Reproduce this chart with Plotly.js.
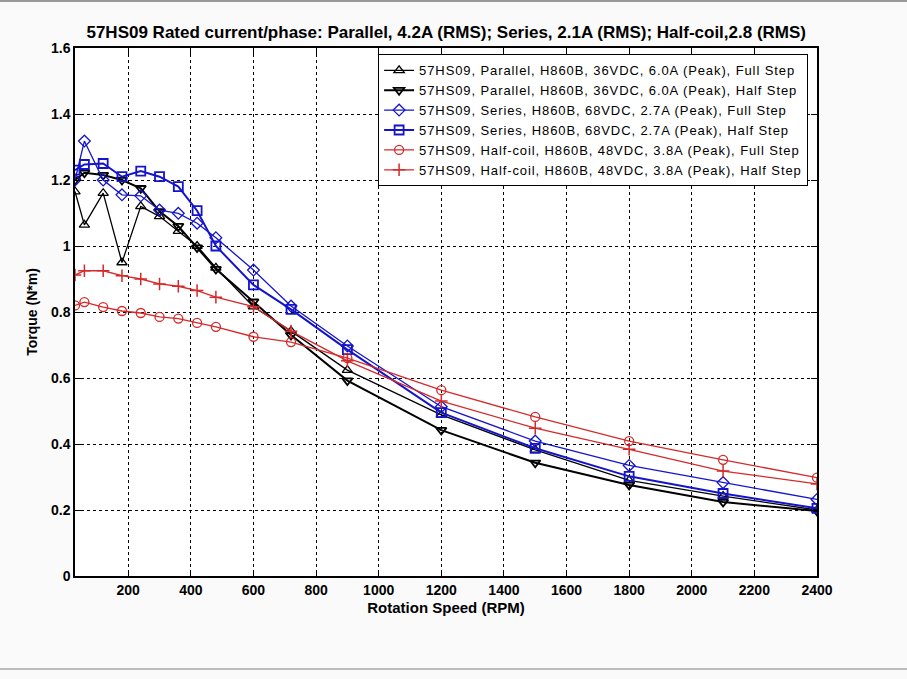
<!DOCTYPE html>
<html>
<head>
<meta charset="utf-8">
<script src="https://cdn.plot.ly/plotly-3.0.1.min.js"></script>
<style>html,body{margin:0;padding:0;background:#fafafa;}#chart{width:907px;height:679px;}
.legendtext{letter-spacing:0.9px;}</style>
</head>
<body>
<div id="chart"></div>
<script>
const rpm = [30, 60, 120, 180, 240, 300, 360, 420, 480, 600, 720, 900, 1200, 1500, 1800, 2100, 2400];

const parallelFull = [1.165, 1.064, 1.16, 0.95, 1.12, 1.09, 1.045, 1.0, 0.934, 0.816, 0.742, 0.624, 0.488, 0.382, 0.29, 0.242, 0.2];
const parallelHalf = [1.2, 1.222, 1.215, 1.2, 1.175, 1.105, 1.06, 0.995, 0.93, 0.831, 0.73, 0.592, 0.442, 0.343, 0.276, 0.224, 0.197];
const seriesFull   = [1.2, 1.318, 1.2, 1.155, 1.152, 1.109, 1.099, 1.069, 1.025, 0.927, 0.818, 0.697, 0.513, 0.409, 0.335, 0.283, 0.232];
const seriesHalf   = [1.23, 1.247, 1.25, 1.21, 1.227, 1.21, 1.18, 1.107, 1.0, 0.882, 0.808, 0.686, 0.495, 0.387, 0.302, 0.25, 0.205];
const halfCoilFull = [0.82, 0.83, 0.815, 0.803, 0.797, 0.785, 0.78, 0.767, 0.755, 0.725, 0.709, 0.66, 0.563, 0.482, 0.409, 0.352, 0.298];
const halfCoilHalf = [0.912, 0.925, 0.925, 0.91, 0.9, 0.885, 0.878, 0.865, 0.845, 0.816, 0.742, 0.652, 0.53, 0.448, 0.384, 0.318, 0.279];

const seriesNames = [
  "57HS09, Parallel, H860B, 36VDC, 6.0A (Peak), Full Step",
  "57HS09, Parallel, H860B, 36VDC, 6.0A (Peak), Half Step",
  "57HS09, Series, H860B, 68VDC, 2.7A (Peak), Full Step",
  "57HS09, Series, H860B, 68VDC, 2.7A (Peak), Half Step",
  "57HS09, Half-coil, H860B, 48VDC, 3.8A (Peak), Full Step",
  "57HS09, Half-coil, H860B, 48VDC, 3.8A (Peak), Half Step"
];
const xTicks = [200, 400, 600, 800, 1000, 1200, 1400, 1600, 1800, 2000, 2200, 2400];
const yTicks = [0, 0.2, 0.4, 0.6, 0.8, 1, 1.2, 1.4, 1.6];
const yTickText = ["0", "0.2", "0.4", "0.6", "0.8", "1", "1.2", "1.4", "1.6"];

const BLACK = "#000000", BLUE = "#1414cc", RED = "#d42a2a";
const styles = [
  {c: BLACK, s: "triangle-up-open", w: 1.3, lw: 1.3},
  {c: BLACK, s: "triangle-down-open", w: 2, lw: 1.8},
  {c: BLUE, s: "diamond-open", w: 1.3, lw: 1.3},
  {c: BLUE, s: "square-open", w: 2, lw: 1.8},
  {c: RED, s: "circle-open", w: 1.3, lw: 1.3},
  {c: RED, s: "cross-thin-open", w: 1.3, lw: 1.5}
];
const ys = [parallelFull, parallelHalf, seriesFull, seriesHalf, halfCoilFull, halfCoilHalf];

const FONT = "Liberation Sans Narrow, Liberation Sans, Arial, sans-serif";
const data = ys.map((y, i) => ({
  x: rpm, y: y, name: seriesNames[i], type: "scatter", mode: "lines+markers",
  line: {color: styles[i].c, width: styles[i].w},
  marker: {symbol: styles[i].s, size: 9, color: styles[i].c, line: {color: styles[i].c, width: styles[i].lw}}
}));

const layout = {
  width: 907, height: 679,
  paper_bgcolor: "#fafafa", plot_bgcolor: "#ffffff",
  margin: {l: 75, r: 90, t: 48, b: 103},
  showlegend: true,
  title: {text: "57HS09 Rated current/phase: Parallel, 4.2A (RMS); Series, 2.1A (RMS); Half-coil,2.8 (RMS)",
          font: {family: FONT, size: 17, weight: "bold", color: "#000"}, x: 0.492, xanchor: "center", y: 0.953, yanchor: "middle"},
  xaxis: {range: [30, 2400], tickvals: xTicks, ticktext: xTicks.map(String),
          showgrid: true, gridcolor: "#000", griddash: "dot", gridwidth: 1,
          showline: true, linecolor: "#000", linewidth: 1.5, mirror: "ticks",
          ticks: "inside", ticklen: 6, tickcolor: "#000",
          zeroline: false,
          tickfont: {family: FONT, size: 14, weight: "bold", color: "#000"},
          title: {text: "Rotation Speed (RPM)", font: {family: FONT, size: 15, weight: "bold", color: "#000"}, standoff: 6}},
  yaxis: {range: [0, 1.6], tickvals: yTicks, ticktext: yTickText,
          showgrid: true, gridcolor: "#000", griddash: "dot", gridwidth: 1,
          showline: true, linecolor: "#000", linewidth: 1.5, mirror: "ticks",
          ticks: "inside", ticklen: 6, tickcolor: "#000",
          zeroline: false,
          tickfont: {family: FONT, size: 14, weight: "bold", color: "#000"},
          title: {text: "Torque (N*m)", font: {family: FONT, size: 14, weight: "bold", color: "#000"}, standoff: 10}},
  legend: {x: 0.988, xanchor: "right", y: 0.988, yanchor: "top",
           bgcolor: "#ffffff", bordercolor: "#000", borderwidth: 1,
           font: {family: "Liberation Sans, Arial, sans-serif", size: 13, color: "#000"},
           tracegroupgap: 0, itemwidth: 30},
  shapes: [
    {type: "line", xref: "paper", yref: "paper", x0: -0.2, x1: 1.2, y0: (679 - 103 - 1) / 528, y1: (679 - 103 - 1) / 528, line: {color: "#999", width: 2}},
    {type: "line", xref: "paper", yref: "paper", x0: -0.2, x1: 1.2, y0: -(669 - 576) / 528, y1: -(669 - 576) / 528, line: {color: "#bbb", width: 2}}
  ]
};

Plotly.newPlot("chart", data, layout, {displayModeBar: false, responsive: false});
</script>
</body>
</html>
